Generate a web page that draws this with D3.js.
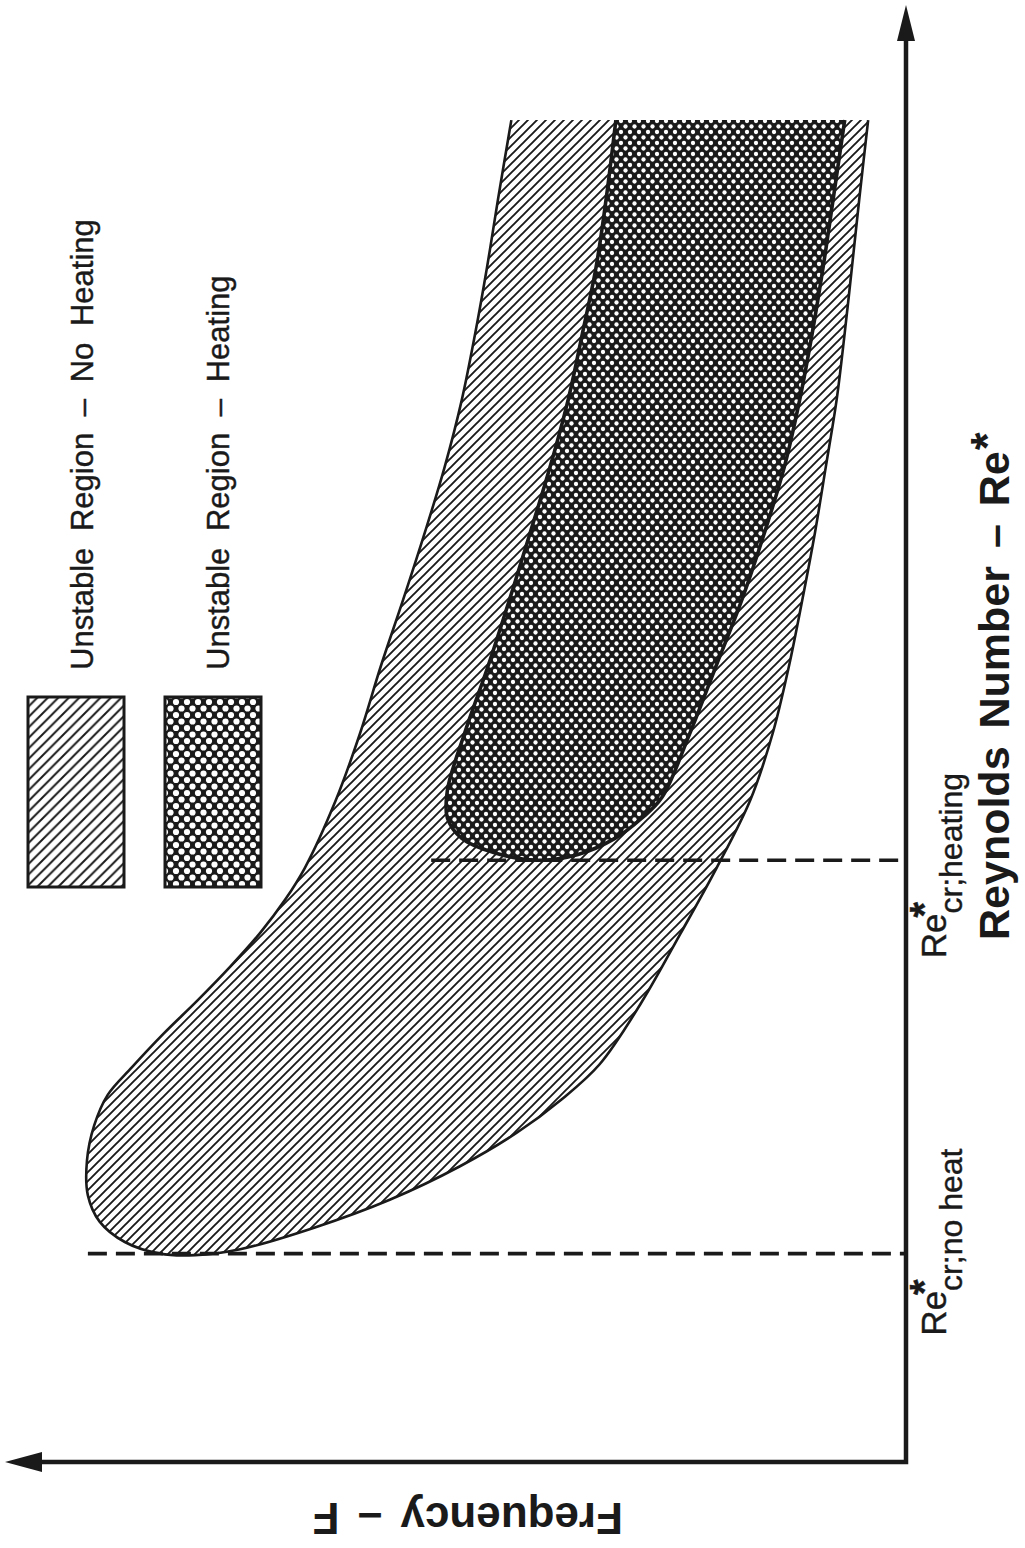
<!DOCTYPE html>
<html>
<head>
<meta charset="utf-8">
<script src="https://cdnjs.cloudflare.com/ajax/libs/d3/7.8.5/d3.min.js"></script>
<style>
    body { margin: 0; background: #fff; }
    svg { display: block; }
    text { font-family: "Liberation Sans", Arial, Helvetica, sans-serif; fill: #1a1a1a; }
</style>
</head>
<body>
<div id="chart"></div>
<script>
// chart is drawn turned a quarter turn: Re runs up the page, F runs to the left
// outer band = unstable, no heating (Re, F pairs going round the curve)
var outerRe = [92.1, 86.6, 82.0, 77.5, 72.9, 68.3, 63.8, 59.2, 54.6, 50.0, 45.4, 40.8, 38.6, 36.3, 34.0, 31.7, 29.4, 27.1, 25.2, 23.1, 20.7, 18.3, 16.5, 15.1, 14.3, 14.2,
               14.6, 16.1, 18.0, 20.3, 22.6, 24.9, 27.3, 31.4, 36.3, 40.8, 45.4, 50.0, 54.6, 59.2, 63.8, 68.3, 72.9, 77.5, 82.0, 86.6, 92.1];
var outerF  = [43.8, 45.3, 46.5, 47.8, 49.3, 51.2, 53.4, 55.8, 58.3, 60.6, 63.3, 66.7, 68.9, 71.7, 75.0, 78.6, 82.4, 85.9, 88.6, 90.1, 90.9, 90.8, 89.5, 86.7, 82.8, 78.9,
               73.9, 65.6, 57.3, 49.5, 43.2, 38.2, 34.0, 29.5, 25.0, 21.0, 17.3, 14.8, 13.0, 11.5, 10.1, 8.9, 7.7, 6.8, 6.0, 5.2, 4.2];
// inner band = unstable, heating
var innerRe = [92.1, 86.6, 82.0, 77.5, 72.9, 68.3, 63.8, 59.2, 54.6, 50.0, 46.1, 44.2, 42.8, 41.8, 41.3, 41.7, 42.8, 44.2, 45.6,
               50.0, 54.6, 59.2, 63.8, 68.3, 72.9, 77.5, 82.0, 86.6, 92.1];
var innerF  = [32.2, 33.3, 34.4, 35.9, 37.5, 39.5, 41.7, 44.0, 46.4, 49.0, 50.9, 50.9, 49.3, 45.6, 41.0, 36.4, 32.3, 29.3, 27.1,
               24.0, 21.1, 18.2, 15.7, 13.5, 11.8, 10.4, 9.2, 8.1, 6.8];

var critRe = [14.3, 41.3];          // Re*cr no heat, Re*cr heating
var critDashF = [90.8, 52.7];       // how far the dashed marker runs along F
var critSub = ["cr;no heat", "cr;heating"];

var legendLabels = ["Unstable Region – No Heating", "Unstable Region – Heating"];
var reTitle = "Reynolds Number – Re";
var fTitle = "Frequency – F";

var width = 1025, height = 1548, ink = "#1a1a1a";

var reScale = d3.scaleLinear().domain([0, 100]).range([1462, 5]);   // Re -> page y
var fScale = d3.scaleLinear().domain([0, 100]).range([906, 5]);     // F  -> page x

var svg = d3.select("#chart").append("svg")
    .attr("width", width)
    .attr("height", height);

svg.append("rect").attr("width", width).attr("height", height).attr("fill", "#fff");

var defs = svg.append("defs");

function hatch(id, s, w) {
    defs.append("pattern")
        .attr("id", id)
        .attr("patternUnits", "userSpaceOnUse")
        .attr("width", s).attr("height", s)
        .append("path")
        .attr("d", "M" + (-s / 4) + "," + (s / 4) + "L" + (s / 4) + "," + (-s / 4) +
                   "M0," + s + "L" + s + ",0" +
                   "M" + (s * 3 / 4) + "," + (s * 5 / 4) + "L" + (s * 5 / 4) + "," + (s * 3 / 4))
        .attr("stroke", ink)
        .attr("stroke-width", w);
}

function cross(id, w, h, r) {
    var p = defs.append("pattern")
        .attr("id", id)
        .attr("patternUnits", "userSpaceOnUse")
        .attr("width", w).attr("height", h);
    p.append("rect").attr("width", w).attr("height", h).attr("fill", ink);
    [[0, 0], [w, 0], [0, h], [w, h], [w / 2, h / 2]].forEach(function (c) {
        p.append("circle").attr("cx", c[0]).attr("cy", c[1]).attr("r", r).attr("fill", "#fff");
    });
}

hatch("hatch", 9, 1.9);
hatch("hatchLegend", 10.5, 2);
cross("cross", 9, 11, 2.15);
cross("crossLegend", 11, 13, 3.1);

function pts(re, f) {
    return re.map(function (d, i) { return {re: d, f: f[i]}; });
}

var curve = d3.line()
    .x(function (d) { return fScale(d.f); })
    .y(function (d) { return reScale(d.re); })
    .curve(d3.curveCatmullRom.alpha(0.5));

var outer = pts(outerRe, outerF),
    inner = pts(innerRe, innerF);

svg.append("path").attr("d", curve(outer) + "Z").attr("fill", "url(#hatch)");
svg.append("path").attr("d", curve(inner) + "Z").attr("fill", "url(#cross)");
svg.append("path").attr("d", curve(outer)).attr("fill", "none").attr("stroke", ink).attr("stroke-width", 2.6);
svg.append("path").attr("d", curve(inner)).attr("fill", "none").attr("stroke", ink).attr("stroke-width", 3.6);

// dashed critical Reynolds markers
critRe.forEach(function (re, i) {
    svg.append("line")
        .attr("x1", fScale(critDashF[i])).attr("x2", fScale(0))
        .attr("y1", reScale(re)).attr("y2", reScale(re))
        .attr("stroke", ink)
        .attr("stroke-width", 3.6)
        .attr("stroke-dasharray", "19,9");
});

// axes with arrow heads
svg.append("path")
    .attr("d", "M" + fScale(0) + "," + (reScale(100) + 30) + "V" + reScale(0) + "H" + (fScale(100) + 30))
    .attr("fill", "none")
    .attr("stroke", ink)
    .attr("stroke-width", 4.5);

svg.append("path")
    .attr("d", "M" + fScale(0) + "," + reScale(100) + "l-9,36h18z")
    .attr("fill", ink);
svg.append("path")
    .attr("d", "M" + fScale(100) + "," + reScale(0) + "l37,-10v20z")
    .attr("fill", ink);

// critical Re labels, written along the Re axis
var labelStart = [82, 98];
critRe.forEach(function (re, i) {
    var g = svg.append("g")
        .attr("transform", "translate(946," + (reScale(re) + labelStart[i]) + ") rotate(-90)")
        .attr("stroke", ink)
        .attr("stroke-width", 0.4);
    var main = g.append("text").attr("font-size", 35).text("Re");
    var w = main.node().getComputedTextLength();
    g.append("text").attr("x", w - 4).attr("y", -8).attr("font-size", 40).attr("font-weight", "bold").text("*");
    g.append("text").attr("x", w).attr("y", 16).attr("font-size", 32).text(critSub[i]);
});

// Re axis title
var rt = svg.append("text")
    .attr("transform", "translate(1009,940) rotate(-90)")
    .attr("font-size", 43)
    .attr("font-weight", "bold")
    .attr("word-spacing", 6);
rt.append("tspan").text(reTitle);
rt.append("tspan").attr("dx", 1).attr("dy", -6).attr("font-size", 46).text("*");

// F axis title, upside down as in the turned figure
svg.append("text")
    .attr("transform", "translate(623,1503) rotate(180)")
    .attr("font-size", 44)
    .attr("font-weight", "bold")
    .attr("word-spacing", 6)
    .text(fTitle);

// legend
var legendX = [28, 165], legendFill = ["url(#hatchLegend)", "url(#crossLegend)"], legendTextX = [93, 229];
legendLabels.forEach(function (lab, i) {
    svg.append("rect")
        .attr("x", legendX[i]).attr("y", 697)
        .attr("width", 96).attr("height", 190)
        .attr("fill", legendFill[i])
        .attr("stroke", ink)
        .attr("stroke-width", 3);
    svg.append("text")
        .attr("transform", "translate(" + legendTextX[i] + ",670) rotate(-90)")
        .attr("font-size", 31)
        .attr("word-spacing", 8)
        .attr("stroke", ink)
        .attr("stroke-width", 0.4)
        .text(lab);
});
</script>
</body>
</html>
